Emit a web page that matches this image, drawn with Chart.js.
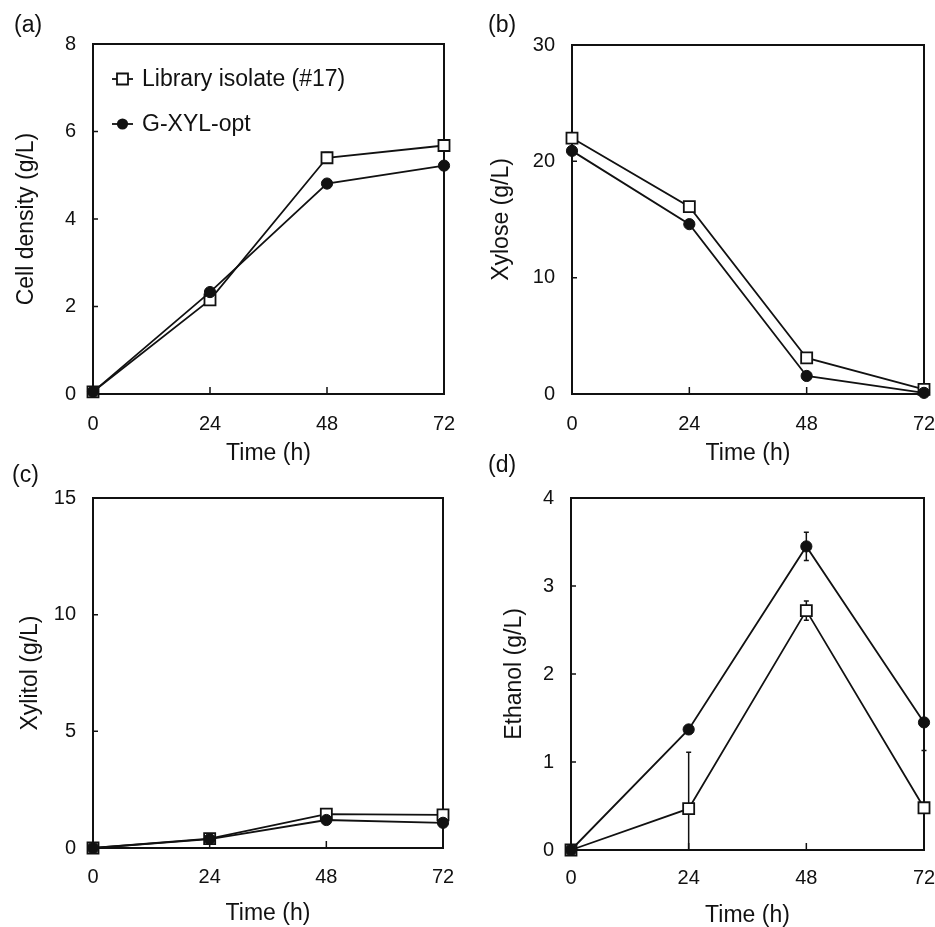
<!DOCTYPE html>
<html>
<head>
<meta charset="utf-8">
<script src="https://cdn.jsdelivr.net/npm/chart.js@4.4.0/dist/chart.umd.min.js"></script>
<style>
  html, body { margin: 0; padding: 0; background: #fff; }
  #wrap { position: relative; width: 935px; height: 927px; overflow: hidden; font-family: "Liberation Sans", Arial, sans-serif; }
  .panel { position: absolute; }
  .tag { position: absolute; font-size: 23px; line-height: 1; color: #111; }
</style>
</head>
<body>
<div id="wrap">
  <div class="panel" style="left:0;top:0"><canvas id="cA"></canvas></div>
  <div class="panel" style="left:467px;top:0"><canvas id="cB"></canvas></div>
  <div class="panel" style="left:0;top:460px"><canvas id="cC"></canvas></div>
  <div class="panel" style="left:467px;top:460px"><canvas id="cD"></canvas></div>
  <div class="tag" style="left:14px;top:13px">(a)</div>
  <div class="tag" style="left:488px;top:13px">(b)</div>
  <div class="tag" style="left:12px;top:463px">(c)</div>
  <div class="tag" style="left:488px;top:453px">(d)</div>
</div>
<script>
const times = [0, 24, 48, 72];
const xTicks = [0, 24, 48, 72];
const seriesNames = ['Library isolate (#17)', 'G-XYL-opt'];

// (a) cell density
const cellLib = [0.05, 2.15, 5.4, 5.68];
const cellG = [0.05, 2.33, 4.81, 5.22];
const cellLibErr = [0, 0, 0.12, 0];
const cellGErr = [0, 0, 0, 0];
const cellTicks = [0, 2, 4, 6, 8];

// (b) xylose
const xyloseLib = [22.0, 16.1, 3.1, 0.4];
const xyloseG = [20.9, 14.6, 1.55, 0.1];
const xyloseTicks = [0, 10, 20, 30];

// (c) xylitol
const xylitolLib = [0, 0.4, 1.45, 1.42];
const xylitolG = [0, 0.38, 1.2, 1.08];
const xylitolTicks = [0, 5, 10, 15];

// (d) ethanol
const ethanolLib = [0, 0.47, 2.72, 0.48];
const ethanolG = [0, 1.37, 3.45, 1.45];
const ethanolLibErr = [0, 0.64, 0.11, 0.65];
const ethanolGErr = [0, 0, 0.16, 0];
const ethanolTicks = [0, 1, 2, 3, 4];

Chart.defaults.font.family = '"Liberation Sans", Arial, sans-serif';
Chart.defaults.color = '#111';

const INK = '#111';

// box around the plot, inward ticks, error bars
const framePlugin = {
  id: 'frame',
  beforeDatasetsDraw(chart) {
    const { ctx, chartArea: a, scales: { x, y } } = chart;
    ctx.save();
    ctx.strokeStyle = INK;
    ctx.lineWidth = 2;
    ctx.strokeRect(a.left, a.top, a.right - a.left, a.bottom - a.top);

    ctx.lineWidth = 1.5;
    ctx.beginPath();
    x.ticks.forEach(t => {
      const px = x.getPixelForValue(t.value);
      if (px > a.left + 1 && px < a.right - 1) { ctx.moveTo(px, a.bottom); ctx.lineTo(px, a.bottom - 7); }
    });
    y.ticks.forEach(t => {
      const py = y.getPixelForValue(t.value);
      if (py > a.top + 1 && py < a.bottom - 1) { ctx.moveTo(a.left, py); ctx.lineTo(a.left + 5, py); }
    });
    ctx.stroke();

    chart.data.datasets.forEach(ds => {
      if (!ds.errors) return;
      ds.data.forEach((p, i) => {
        const e = ds.errors[i];
        if (!e) return;
        const px = x.getPixelForValue(p.x);
        const hi = Math.max(y.getPixelForValue(p.y + e), a.top);
        const lo = Math.min(y.getPixelForValue(p.y - e), a.bottom);
        ctx.beginPath();
        ctx.moveTo(px, hi); ctx.lineTo(px, lo);
        ctx.moveTo(px - 2.5, hi); ctx.lineTo(px + 2.5, hi);
        if (lo < a.bottom) { ctx.moveTo(px - 2.5, lo); ctx.lineTo(px + 2.5, lo); }
        ctx.stroke();
      });
    });
    ctx.restore();
  }
};

const legendPlugin = {
  id: 'insideLegend',
  afterDraw(chart) {
    const { ctx } = chart;
    ctx.save();
    ctx.strokeStyle = INK;
    ctx.lineWidth = 1.8;
    ctx.font = '23px "Liberation Sans", Arial, sans-serif';
    ctx.textBaseline = 'middle';
    const rows = [79, 124];
    rows.forEach((yy, i) => {
      ctx.beginPath();
      ctx.moveTo(112, yy); ctx.lineTo(133, yy);
      ctx.stroke();
      ctx.beginPath();
      if (i === 0) {
        ctx.rect(117, yy - 5.5, 11, 11);
        ctx.fillStyle = '#fff'; ctx.fill(); ctx.stroke();
      } else {
        ctx.arc(122.5, yy, 5.6, 0, Math.PI * 2);
        ctx.fillStyle = INK; ctx.fill();
      }
      ctx.fillStyle = INK;
      ctx.fillText(seriesNames[i], 142, yy + 1);
    });
    ctx.restore();
  }
};

function makePanel(id, cfg) {
  const canvas = document.getElementById(id);
  canvas.width = cfg.w;
  canvas.height = cfg.h;
  const pts = arr => times.map((t, i) => ({ x: t, y: arr[i] }));
  return new Chart(canvas, {
    type: 'line',
    data: {
      datasets: [
        {
          label: seriesNames[0], data: pts(cfg.lib), errors: cfg.libErr,
          borderColor: INK, borderWidth: 1.8, pointStyle: 'rect', pointRadius: 7.8,
          pointBackgroundColor: '#fff', pointBorderColor: INK, pointBorderWidth: 1.8,
          order: 2, clip: false
        },
        {
          label: seriesNames[1], data: pts(cfg.g), errors: cfg.gErr,
          borderColor: INK, borderWidth: 1.8, pointStyle: 'circle', pointRadius: 5.6,
          pointBackgroundColor: INK, pointBorderColor: INK, pointBorderWidth: 1,
          order: 1, clip: false
        }
      ]
    },
    options: {
      responsive: false, animation: false, devicePixelRatio: 1,
      layout: { padding: cfg.pad },
      plugins: { legend: { display: false }, tooltip: { enabled: false } },
      scales: {
        x: {
          type: 'linear', min: 0, max: 72,
          afterBuildTicks: s => { s.ticks = xTicks.map(v => ({ value: v })); },
          afterFit: s => { s.height = cfg.xH; s.paddingLeft = 0; s.paddingRight = 0; },
          grid: { display: false, drawTicks: false }, border: { display: false },
          ticks: { padding: cfg.xPad, color: INK, font: { size: 20 } },
          title: { display: true, text: 'Time (h)', color: INK, font: { size: 23 }, padding: { top: 0, bottom: 0 } }
        },
        y: {
          type: 'linear', min: 0, max: cfg.yTicks[cfg.yTicks.length - 1],
          afterBuildTicks: s => { s.ticks = cfg.yTicks.map(v => ({ value: v })); },
          afterFit: s => { s.width = cfg.yW; s.paddingTop = 0; s.paddingBottom = 0; },
          grid: { display: false, drawTicks: false }, border: { display: false },
          ticks: { padding: 17, color: INK, font: { size: 20 } },
          title: { display: true, text: cfg.yTitle, color: INK, font: { size: 23 }, padding: { top: cfg.yTitlePad, bottom: 0 } }
        }
      }
    },
    plugins: cfg.legend ? [framePlugin, legendPlugin] : [framePlugin]
  });
}

makePanel('cA', {
  w: 467, h: 467, pad: { left: 0, right: 23, top: 44, bottom: 0 }, yW: 93, xH: 73, xPad: 18, yTitlePad: 13,
  lib: cellLib, g: cellG, libErr: cellLibErr, gErr: cellGErr, yTicks: cellTicks,
  yTitle: 'Cell density (g/L)', legend: true
});
makePanel('cB', {
  w: 468, h: 467, pad: { left: 0, right: 11, top: 45, bottom: 0 }, yW: 105, xH: 73, xPad: 18, yTitlePad: 21,
  lib: xyloseLib, g: xyloseG, libErr: null, gErr: null, yTicks: xyloseTicks,
  yTitle: 'Xylose (g/L)'
});
makePanel('cC', {
  w: 467, h: 467, pad: { left: 0, right: 24, top: 38, bottom: 0 }, yW: 93, xH: 79, xPad: 17, yTitlePad: 17,
  lib: xylitolLib, g: xylitolG, libErr: null, gErr: null, yTicks: xylitolTicks,
  yTitle: 'Xylitol (g/L)'
});
makePanel('cD', {
  w: 468, h: 469, pad: { left: 0, right: 11, top: 38, bottom: 0 }, yW: 104, xH: 79, xPad: 16, yTitlePad: 34,
  lib: ethanolLib, g: ethanolG, libErr: ethanolLibErr, gErr: ethanolGErr, yTicks: ethanolTicks,
  yTitle: 'Ethanol (g/L)'
});
</script>
</body>
</html>
